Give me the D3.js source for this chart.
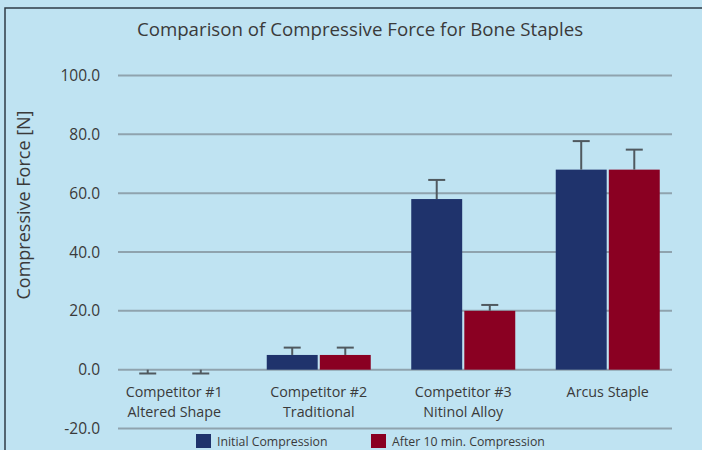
<!DOCTYPE html>
<meta charset="utf-8">
<style>
    body { margin: 0; background: #bfe3f2; }
    svg { display: block; }
    text { font-family: "Open Sans", sans-serif; fill: #3a3a3a; }
</style>
<svg width="702" height="450"></svg>
<script src="https://cdn.jsdelivr.net/npm/d3@7"></script>
<script>
    // data
    var categories = [["Competitor #1", "Altered Shape"], ["Competitor #2", "Traditional"],
                      ["Competitor #3", "Nitinol Alloy"], ["Arcus Staple"]];
    var seriesNames = ["Initial Compression", "After 10 min. Compression"];
    var initialValues = [0, 5, 58, 68];
    var initialErrors = [-1.3, 7.5, 64.5, 77.7];
    var afterValues = [0, 5, 20, 68];
    var afterErrors = [-1.3, 7.5, 22, 74.8];
    var yTicks = [-20, 0, 20, 40, 60, 80, 100];
    var colors = ["#1f336c", "#8a0022"];

    var svg = d3.select("svg");

    // frame
    svg.append("path")
        .attr("d", "M5,460 V8 H710")
        .attr("fill", "none")
        .attr("stroke", "#2f3d47")
        .attr("stroke-width", 1.5);

    var y = d3.scaleLinear().domain([-20, 100]).range([428.5, 75.5]);
    var x0 = d3.scaleBand().domain(d3.range(categories.length)).range([102, 680]);
    var x1 = d3.scaleBand().domain([0, 1]).range([0, 104]).paddingInner(0.04);
    var gx0 = 118, gx1 = 672;

    svg.append("text")
        .attr("x", 360).attr("y", 36)
        .attr("text-anchor", "middle")
        .style("font-size", "18.7px")
        .text("Comparison of Compressive Force for Bone Staples");

    svg.append("text")
        .attr("transform", "translate(30,205) rotate(-90)")
        .attr("text-anchor", "middle")
        .style("font-size", "18px")
        .text("Compressive Force [N]");

    // grid + tick labels
    var grid = svg.append("g");
    grid.selectAll("line").data(yTicks).enter().append("line")
        .attr("x1", gx0).attr("x2", gx1)
        .attr("y1", function (d) { return y(d); })
        .attr("y2", function (d) { return y(d); })
        .attr("stroke", "#8fa3ae")
        .attr("stroke-width", 2);
    grid.selectAll("text").data(yTicks).enter().append("text")
        .attr("x", 100)
        .attr("y", function (d) { return y(d) + 5.5; })
        .attr("text-anchor", "end")
        .style("font-size", "15.5px")
        .text(function (d) { return d.toFixed(1); });

    var rows = categories.map(function (c, i) {
        return [
            { i: i, s: 0, v: initialValues[i], e: initialErrors[i] },
            { i: i, s: 1, v: afterValues[i], e: afterErrors[i] }
        ];
    });

    var group = svg.selectAll(".grp").data(rows).enter().append("g")
        .attr("class", "grp")
        .attr("transform", function (d, i) {
            return "translate(" + (x0(i) + x0.bandwidth() / 2 - 52) + ",0)";
        });

    group.selectAll("rect").data(function (d) { return d; }).enter().append("rect")
        .attr("x", function (d) { return x1(d.s); })
        .attr("width", x1.bandwidth())
        .attr("y", function (d) { return y(Math.max(0, d.v)); })
        .attr("height", function (d) { return Math.abs(y(d.v) - y(0)); })
        .attr("fill", function (d) { return colors[d.s]; });

    var err = group.selectAll(".err").data(function (d) { return d; }).enter().append("g")
        .attr("class", "err")
        .attr("stroke", "#50595f")
        .attr("stroke-width", 2);
    err.append("line")
        .attr("x1", function (d) { return x1(d.s) + x1.bandwidth() / 2; })
        .attr("x2", function (d) { return x1(d.s) + x1.bandwidth() / 2; })
        .attr("y1", function (d) { return y(d.v); })
        .attr("y2", function (d) { return y(d.e); });
    err.append("line")
        .attr("x1", function (d) { return x1(d.s) + x1.bandwidth() / 2 - 8.5; })
        .attr("x2", function (d) { return x1(d.s) + x1.bandwidth() / 2 + 8.5; })
        .attr("y1", function (d) { return y(d.e); })
        .attr("y2", function (d) { return y(d.e); });

    // category labels
    svg.selectAll(".cat").data(categories).enter().append("text")
        .attr("class", "cat")
        .attr("text-anchor", "middle")
        .attr("transform", function (d, i) { return "translate(" + (x0(i) + x0.bandwidth() / 2) + ",397)"; })
        .style("font-size", "14.3px")
        .selectAll("tspan").data(function (d) { return d; }).enter().append("tspan")
        .attr("x", 0)
        .attr("dy", function (d, j) { return j ? 20 : 0; })
        .text(function (d) { return d; });

    // legend
    var legendX = [196, 371];
    var lg = svg.selectAll(".lg").data(seriesNames).enter().append("g")
        .attr("class", "lg")
        .attr("transform", function (d, i) { return "translate(" + legendX[i] + ",434)"; });
    lg.append("rect").attr("width", 15).attr("height", 14)
        .attr("fill", function (d, i) { return colors[i]; });
    lg.append("text").attr("x", 21).attr("y", 11.5)
        .style("font-size", "12.3px")
        .text(function (d) { return d; });
</script>
